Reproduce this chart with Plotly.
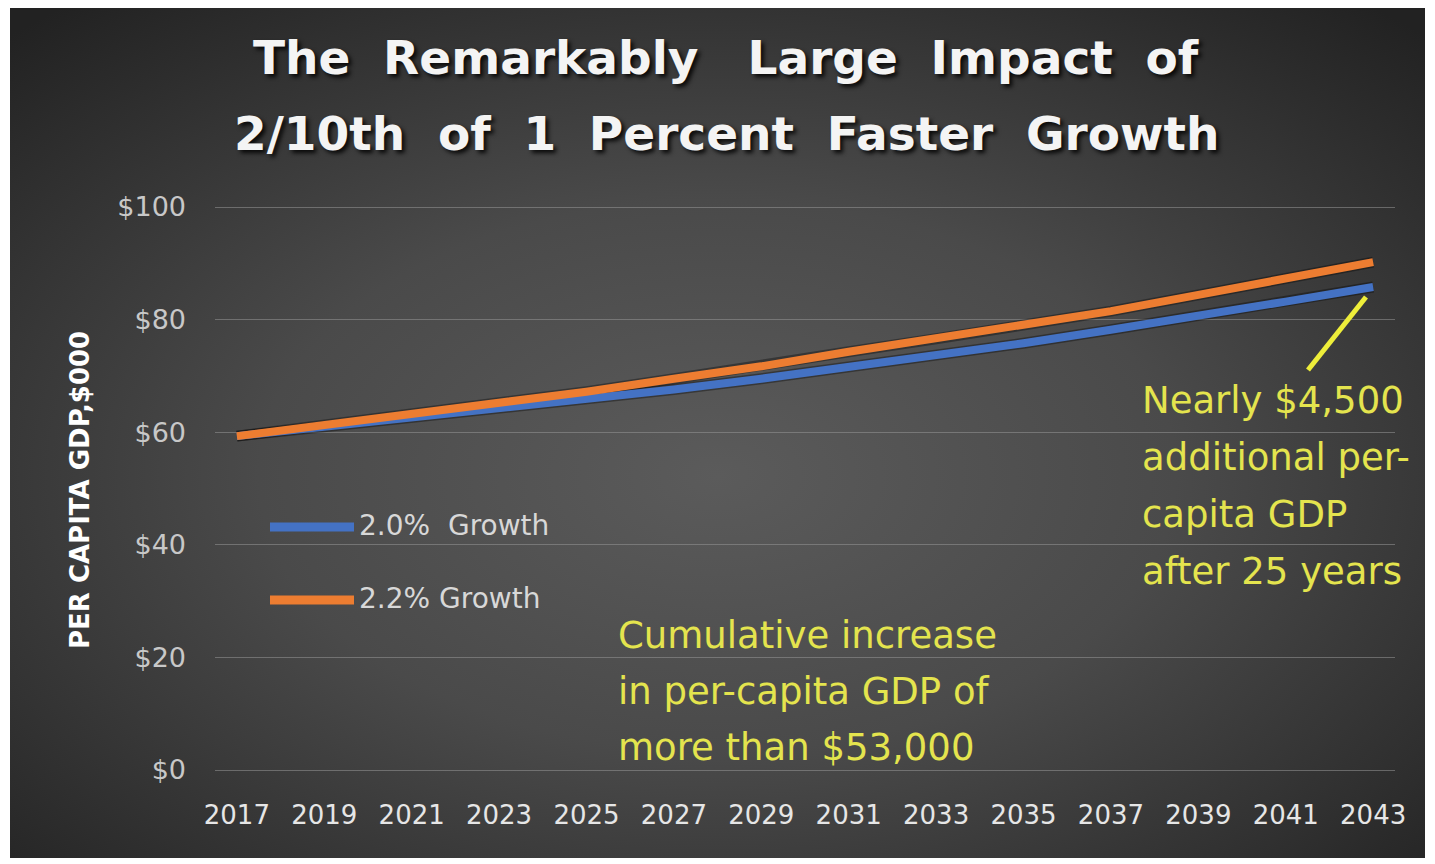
import base64
import plotly.graph_objects as go

# Per-capita GDP ($000) under two growth paths
years = [2017, 2019, 2021, 2023, 2025, 2027, 2029, 2031, 2033, 2035, 2037, 2039, 2041, 2043]
gdp_20 = [59.3, 60.9, 62.6, 64.2, 65.8, 67.6, 69.5, 71.5, 73.6, 75.8, 78.2, 80.6, 83.2, 85.8]
gdp_22 = [59.3, 61.3, 63.3, 65.0, 67.2, 69.5, 71.7, 74.3, 76.6, 79.0, 81.5, 84.4, 87.2, 90.2]
series_names = ["2.0%\u00a0 Growth", "2.2% Growth"]
y_ticks = [0, 20, 40, 60, 80, 100]

title_lines = [
    "The\u00a0 Remarkably\u00a0\u00a0 Large\u00a0 Impact\u00a0 of",
    "2/10th\u00a0 of\u00a0 1\u00a0 Percent\u00a0 Faster\u00a0 Growth",
]
note_right = ["Nearly $4,500", "additional per-", "capita GDP", "after 25 years"]
note_bottom = ["Cumulative increase", "in per-capita GDP of", "more than $53,000"]

BLUE = "#4472c4"
ORANGE = "#ed7d31"
YELLOW = "#e4e44e"
FONT = "DejaVu Sans"

W, H = 1435, 864
# pixel rows of the $100 and $0 gridlines; a few px of padding keeps both edge lines visible
Y_TOP, Y_BOT = 207, 770
PAD = 5
L, R, T, B = 215, 40, Y_TOP - PAD, H - Y_BOT - PAD
PW, PH = W - L - R, H - T - B
pad_units = PAD * 100 / (Y_BOT - Y_TOP)


def fx(px):
    return (px - L) / PW


def fy(py):
    return (H - B - py) / PH


# Dark radial-gradient card behind the chart
card = (10, 8, 1425, 858)
cw, ch = card[2] - card[0], card[3] - card[1]
svg = (
    f"<svg xmlns='http://www.w3.org/2000/svg' width='{cw}' height='{ch}' "
    f"viewBox='0 0 {cw} {ch}' preserveAspectRatio='none'>"
    "<defs><radialGradient id='g' cx='0.5' cy='0.55' r='0.72'>"
    "<stop offset='0' stop-color='#5b5b5b'/>"
    "<stop offset='0.45' stop-color='#4a4a4a'/>"
    "<stop offset='1' stop-color='#222222'/>"
    "</radialGradient></defs>"
    f"<rect x='0' y='0' width='{cw}' height='{ch}' fill='url(#g)'/></svg>"
)
svg_uri = "data:image/svg+xml;base64," + base64.b64encode(svg.encode()).decode()

fig = go.Figure()

# soft shadows under the lines
for vals in (gdp_20, gdp_22):
    fig.add_trace(go.Scatter(
        x=years, y=vals, mode="lines", hoverinfo="skip", showlegend=False,
        line=dict(color="rgba(0,0,0,0.35)", width=11),
    ))

for vals, name, color in ((gdp_20, series_names[0], BLUE), (gdp_22, series_names[1], ORANGE)):
    fig.add_trace(go.Scatter(
        x=years, y=vals, mode="lines", name=name, showlegend=False,
        line=dict(color=color, width=8),
    ))

annotations = []
shapes = []

# Title
for i, line in enumerate(title_lines):
    annotations.append(dict(
        x=fx(726), y=fy(58 + 75 * i), xref="paper", yref="paper",
        text=line, showarrow=False, xanchor="center", yanchor="middle",
        font=dict(family=FONT, size=47, color="#f4f4f4", weight="bold",
                  shadow="3px 3px 4px rgba(0,0,0,0.85)"),
    ))

# Y-axis title
annotations.append(dict(
    x=fx(80), y=fy(490), xref="paper", yref="paper", textangle=-90,
    text="PER CAPITA GDP,$000", showarrow=False,
    xanchor="center", yanchor="middle",
    font=dict(family=FONT, size=26, color="#ffffff", weight="bold"),
))

# In-plot legend
for i, (name, color) in enumerate(zip(series_names, (BLUE, ORANGE))):
    yy = 527 + 73 * i
    shapes.append(dict(
        type="line", xref="paper", yref="paper",
        x0=fx(270), x1=fx(354), y0=fy(yy), y1=fy(yy),
        line=dict(color=color, width=9),
    ))
    annotations.append(dict(
        x=fx(357), y=fy(yy - 2), xref="paper", yref="paper", text=name,
        showarrow=False, xanchor="left", yanchor="middle",
        font=dict(family=FONT, size=28, color="#d8d8d8"),
    ))

# Call-out notes
for i, line in enumerate(note_right):
    annotations.append(dict(
        x=fx(1140), y=fy(400 + 57.3 * i), xref="paper", yref="paper", text=line,
        showarrow=False, xanchor="left", yanchor="middle",
        font=dict(family=FONT, size=37, color=YELLOW),
    ))
for i, line in enumerate(note_bottom):
    annotations.append(dict(
        x=fx(616), y=fy(635 + 56 * i), xref="paper", yref="paper", text=line,
        showarrow=False, xanchor="left", yanchor="middle",
        font=dict(family=FONT, size=37, color=YELLOW),
    ))

# pointer from the note to the gap between the lines
shapes.append(dict(
    type="line", xref="paper", yref="paper",
    x0=fx(1308), y0=fy(370), x1=fx(1366), y1=fy(297),
    line=dict(color="#eeee3a", width=5),
))

fig.update_layout(
    width=W, height=H, autosize=False,
    margin=dict(l=L, r=R, t=T, b=B, pad=0),
    paper_bgcolor="#ffffff", plot_bgcolor="rgba(0,0,0,0)",
    showlegend=False,
    images=[dict(
        source=svg_uri, xref="paper", yref="paper",
        x=fx(card[0]), y=fy(card[1]), sizex=cw / PW, sizey=ch / PH,
        xanchor="left", yanchor="top", sizing="stretch", layer="below",
    )],
    annotations=annotations,
    shapes=shapes,
    xaxis=dict(
        range=[2016.5, 2043.5], tickmode="array", tickvals=years,
        ticktext=[str(y) for y in years], showgrid=False, zeroline=False,
        showline=False, ticks="", ticklabelstandoff=27 - PAD,
        tickfont=dict(family=FONT, size=26, color="#e6e6e6"),
    ),
    yaxis=dict(
        range=[-pad_units, 100 + pad_units], tickmode="array", tickvals=y_ticks,
        ticktext=[f"${v}" for v in y_ticks], showgrid=True,
        gridcolor="rgba(150,150,150,0.55)", gridwidth=1, zeroline=False,
        showline=False, ticks="", ticklabelstandoff=28,
        tickfont=dict(family=FONT, size=27, color="#c8c8c8"),
    ),
)

fig.write_html("out.html")
